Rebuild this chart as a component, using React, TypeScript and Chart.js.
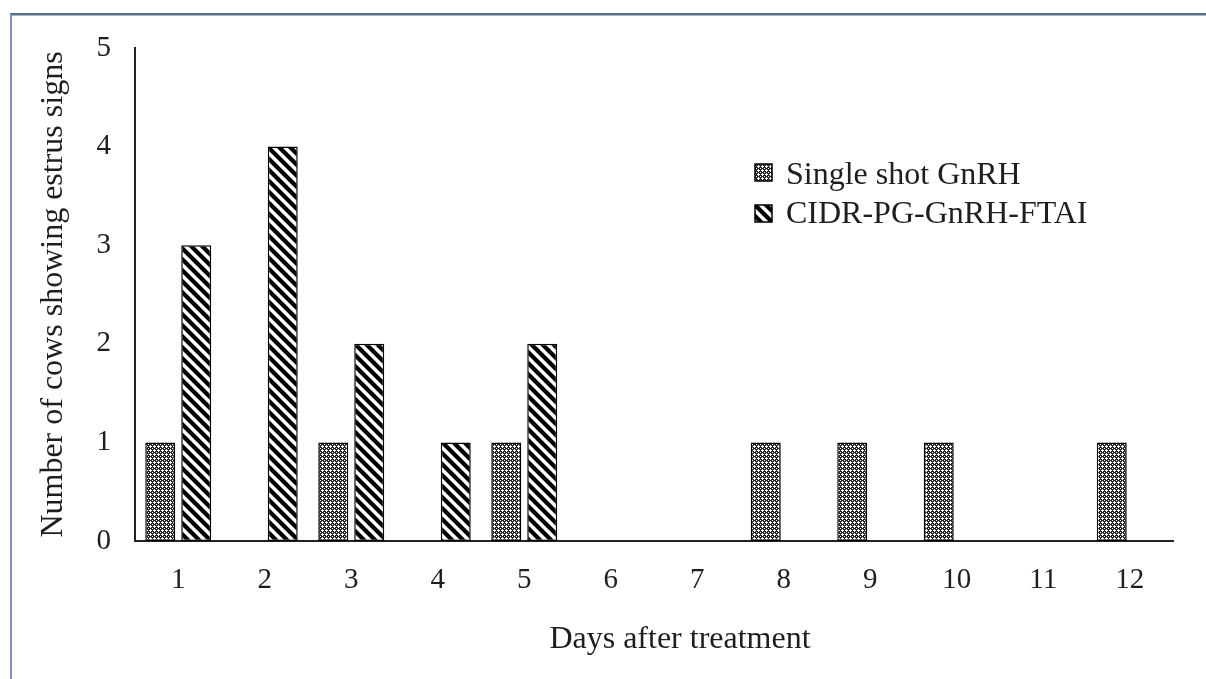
import { useEffect, useRef } from "react";
import { Chart, registerables } from "chart.js";

Chart.register(...registerables);

const days = ["1", "2", "3", "4", "5", "6", "7", "8", "9", "10", "11", "12"];
const singleShotGnRH = [1, 0, 1, 0, 1, 0, 0, 1, 1, 1, 0, 1];
const cidrPgGnRHFtai = [3, 4, 2, 1, 2, 0, 0, 0, 0, 0, 0, 0];
const seriesNames = ["Single shot GnRH", "CIDR-PG-GnRH-FTAI"];
const yMax = 5;
const xTitle = "Days after treatment";
const yTitle = "Number of cows showing estrus signs";

const SERIF = "'Liberation Serif', 'Times New Roman', serif";
const INK = "#1e1e1e";

function makeDotPattern(ctx: CanvasRenderingContext2D): CanvasPattern | string {
  const s = 4;
  const c = document.createElement("canvas");
  c.width = s;
  c.height = s;
  const g = c.getContext("2d");
  if (!g) return "#777";
  g.fillStyle = "#262626";
  g.fillRect(0, 0, s, s);
  g.fillStyle = "#ffffff";
  const px = [
    [2, 1],
    [1, 2],
    [2, 2],
    [3, 2],
    [2, 3],
    [0, 0],
  ];
  px.forEach(([x, y]) => g.fillRect(x, y, 1, 1));
  return ctx.createPattern(c, "repeat") || "#777";
}

function makeStripePattern(ctx: CanvasRenderingContext2D): CanvasPattern | string {
  const s = 11;
  const c = document.createElement("canvas");
  c.width = s;
  c.height = s;
  const g = c.getContext("2d");
  if (!g) return "#444";
  g.fillStyle = "#ffffff";
  g.fillRect(0, 0, s, s);
  g.strokeStyle = "#000000";
  g.lineWidth = 4.2;
  for (const off of [-s, 0, s]) {
    g.beginPath();
    g.moveTo(off - 2, -2);
    g.lineTo(off + s + 2, s + 2);
    g.stroke();
  }
  return ctx.createPattern(c, "repeat") || "#444";
}

const legendPlugin = {
  id: "boxLegend",
  afterDraw(chart: any) {
    const ctx: CanvasRenderingContext2D = chart.ctx;
    ctx.save();
    const rows = [
      { box: [755, 164], text: [786, 184] },
      { box: [755, 205], text: [786, 223] },
    ];
    chart.data.datasets.forEach((ds: any, i: number) => {
      const r = rows[i];
      if (!r) return;
      ctx.fillStyle = ds.backgroundColor;
      ctx.fillRect(r.box[0], r.box[1], 17, 17);
      ctx.strokeStyle = "#000";
      ctx.lineWidth = 1.5;
      ctx.strokeRect(r.box[0], r.box[1], 17, 17);
      ctx.fillStyle = INK;
      ctx.font = `32px ${SERIF}`;
      ctx.textAlign = "left";
      ctx.textBaseline = "alphabetic";
      ctx.fillText(ds.label, r.text[0], r.text[1]);
    });
    ctx.restore();
  },
};

const xTitlePlugin = {
  id: "xTitle",
  afterDraw(chart: any) {
    const ctx: CanvasRenderingContext2D = chart.ctx;
    ctx.save();
    ctx.fillStyle = INK;
    ctx.font = `32px ${SERIF}`;
    ctx.textAlign = "center";
    ctx.textBaseline = "alphabetic";
    ctx.fillText(xTitle, 680, 648);
    ctx.restore();
  },
};

export default function App() {
  const canvasRef = useRef<HTMLCanvasElement | null>(null);

  useEffect(() => {
    const canvas = canvasRef.current;
    if (!canvas) return;
    const ctx = canvas.getContext("2d");
    if (!ctx) return;
    const dots = makeDotPattern(ctx);
    const stripes = makeStripePattern(ctx);
    const bw = (c: any) => (c.raw === 0 ? 0 : 1.5);

    const chart = new Chart(canvas, {
      type: "bar",
      data: {
        labels: days,
        datasets: [
          {
            label: seriesNames[0],
            data: singleShotGnRH,
            backgroundColor: dots as any,
            borderColor: "#000",
            borderWidth: bw as any,
            borderSkipped: false,
            categoryPercentage: 0.832,
            barPercentage: 0.833,
          },
          {
            label: seriesNames[1],
            data: cidrPgGnRHFtai,
            backgroundColor: stripes as any,
            borderColor: "#000",
            borderWidth: bw as any,
            borderSkipped: false,
            categoryPercentage: 0.832,
            barPercentage: 0.833,
          },
        ],
      },
      options: {
        animation: false,
        responsive: true,
        maintainAspectRatio: false,
        layout: { padding: { left: 0, top: 48, right: 33, bottom: 0 } },
        plugins: {
          legend: { display: false },
          tooltip: { enabled: false },
          title: { display: false },
        },
        scales: {
          x: {
            grid: { display: false, drawTicks: false },
            border: { display: true, color: "#222", width: 2 },
            ticks: {
              color: INK,
              font: { family: SERIF, size: 29 },
              padding: 22,
              maxRotation: 0,
            },
            afterFit: (scale: any) => {
              scale.height = 138;
            },
          },
          y: {
            min: 0,
            max: yMax,
            grid: { display: false, drawTicks: false },
            border: { display: true, color: "#222", width: 2 },
            ticks: {
              stepSize: 1,
              color: INK,
              font: { family: SERIF, size: 29 },
              padding: 24,
            },
            title: {
              display: true,
              text: yTitle,
              color: INK,
              font: { family: SERIF, size: 32 },
              padding: { top: 34, bottom: 0 },
            },
            afterFit: (scale: any) => {
              scale.width = 135;
            },
          },
        },
      },
      plugins: [legendPlugin, xTitlePlugin],
    });
    return () => chart.destroy();
  }, []);

  return (
    <div
      style={{
        position: "fixed",
        left: 0,
        top: 0,
        width: 1206,
        height: 679,
        overflow: "hidden",
        background: "#fff",
      }}
    >
      <div
        style={{
          position: "absolute",
          left: 10,
          top: 13,
          width: 1400,
          height: 900,
          borderTop: "2px solid #5f6b82",
          borderLeft: "2px solid #7d90b3",
          boxShadow: "inset 0 1px 0 #a9b9d6",
        }}
      />
      <div style={{ position: "absolute", left: 0, top: 0, width: 1206, height: 679 }}>
        <canvas ref={canvasRef} />
      </div>
    </div>
  );
}
